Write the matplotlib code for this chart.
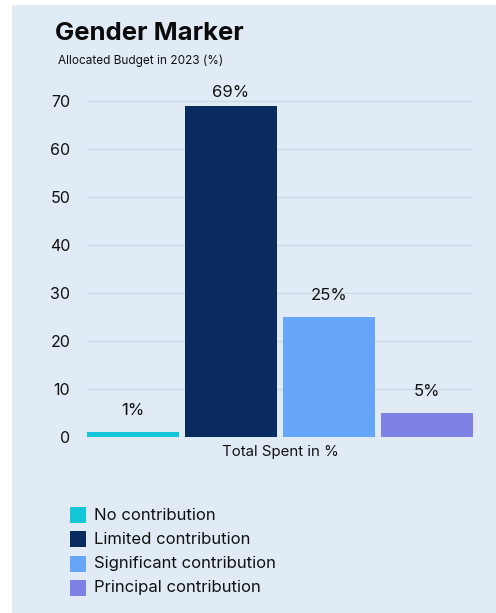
import matplotlib
matplotlib.use("Agg")
import matplotlib.pyplot as plt
from matplotlib.patches import Rectangle

plt.rcParams["font.family"] = ["Inter", "DejaVu Sans"]

categories = ["No contribution", "Limited contribution",
              "Significant contribution", "Principal contribution"]
values = [1, 69, 25, 5]
value_labels = ["1%", "69%", "25%", "5%"]
colors = ["#13C7D9", "#0A2B60", "#66A6F8", "#7F80E4"]
yticks = [0, 10, 20, 30, 40, 50, 60, 70]
x_label = "Total Spent in %"
title = "Gender Marker"
subtitle = "Allocated Budget in 2023 (%)"

bg = "#E1EBF5"
fig = plt.figure(figsize=(4.96, 6.13), dpi=100)
fig.patch.set_facecolor("white")
fig.patches.append(Rectangle((12 / 496, 0), 1, 1 - 5 / 613, transform=fig.transFigure,
                             facecolor=bg, edgecolor="none", zorder=-10))

ax = fig.add_axes([87 / 496, 1 - 437 / 613, 386 / 496, 72 * 4.8 / 613])
ax.set_zorder(1)
ax.patch.set_alpha(0)

xs = list(range(len(values)))
bars = ax.bar(xs, values, width=0.94, color=colors, zorder=3)
ax.set_xlim(-0.47, len(values) - 0.53)
ax.set_ylim(0, 72)
ax.set_yticks(yticks)
ax.set_yticklabels([str(t) for t in yticks])
ax.tick_params(axis="y", length=0, pad=12, labelsize=11.5, labelcolor="#111111")
ax.set_xticks([])
for s in ax.spines.values():
    s.set_visible(False)
ax.grid(axis="y", color="#CAD7E6", linewidth=0.9, zorder=0)

offsets = [10, 4, 10, 10]
for b, lab, off in zip(bars, value_labels, offsets):
    ax.annotate(lab, (b.get_x() + b.get_width() / 2, b.get_height()),
                xytext=(0, off), textcoords="offset points",
                ha="center", va="bottom", fontsize=12, color="#111111")

fig.text(280 / 496, 1 - 452 / 613, x_label, ha="center", va="center",
         fontsize=10.8, color="#111111")

fig.text(55 / 496, 1 - 33 / 613, title, ha="left", va="center",
         fontsize=18.5, fontweight="bold", color="#0B0B0B")
fig.text(58 / 496, 1 - 61 / 613, subtitle, ha="left", va="center",
         fontsize=8.5, color="#111111")

for i, (name, c) in enumerate(zip(categories, colors)):
    yc = 515 + i * 24.3
    fig.patches.append(Rectangle((70 / 496, 1 - (yc + 8) / 613), 16 / 496, 16 / 613,
                                 transform=fig.transFigure, facecolor=c,
                                 edgecolor="none", zorder=2))
    fig.text(94 / 496, 1 - yc / 613, name, ha="left", va="center",
             fontsize=12, color="#111111")

fig.savefig("out.png", dpi=100, facecolor=fig.get_facecolor())
